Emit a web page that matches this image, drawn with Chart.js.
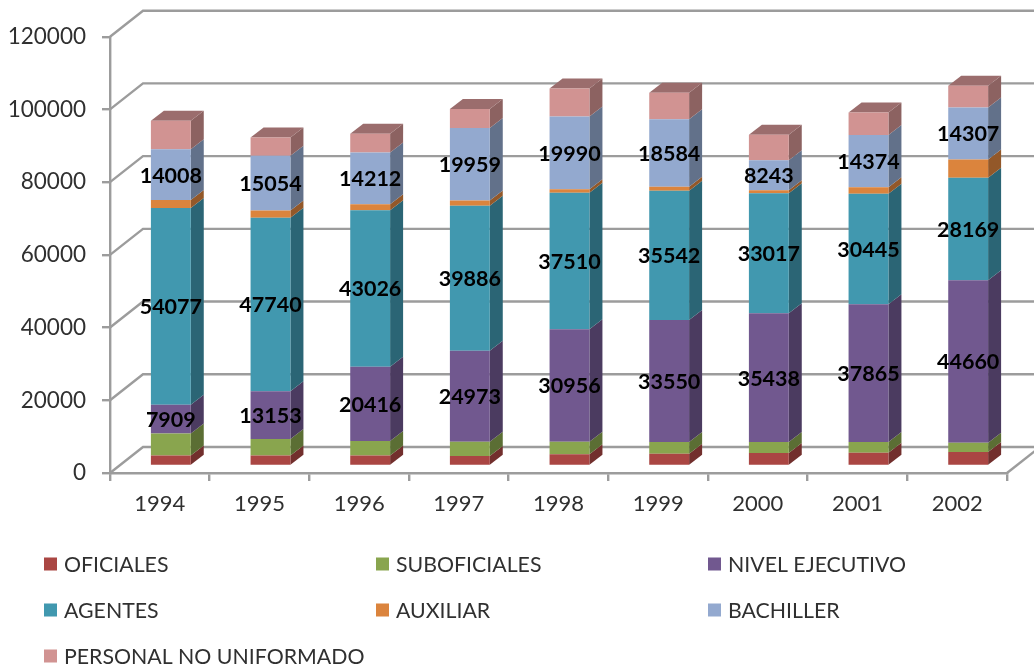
<!DOCTYPE html>
<html><head><meta charset="utf-8">
<style>html,body{margin:0;padding:0;background:#fff}#w{width:1034px;height:667px}canvas{filter:blur(0.55px)}</style>
<script src="https://cdn.jsdelivr.net/npm/chart.js@4"></script></head>
<body><div id="w"><canvas id="c" width="1034" height="667"></canvas></div>
<script>
const years = ['1994','1995','1996','1997','1998','1999','2000','2001','2002'];
const oficiales = [2900,2900,2900,2750,3200,3400,3580,3660,3850];
const suboficiales = [6050,4500,4000,3950,3480,3200,3000,2930,2570];
const nivelEjecutivo = [7909,13153,20416,24973,30956,33550,35438,37865,44660];
const agentes = [54077,47740,43026,39886,37510,35542,33017,30445,28169];
const auxiliar = [2200,2000,1650,1470,1000,1100,825,1740,5040];
const bachiller = [14008,15054,14212,19959,19990,18584,8243,14374,14307];
const personal = [7800,5000,5200,5220,7700,7300,6970,6230,5960];
const seriesNames = ['OFICIALES','SUBOFICIALES','NIVEL EJECUTIVO','AGENTES','AUXILIAR','BACHILLER','PERSONAL NO UNIFORMADO'];
const seriesValues = [oficiales,suboficiales,nivelEjecutivo,agentes,auxiliar,bachiller,personal];
const frontColors = ['#AA4643','#89A54E','#71588F','#4198AF','#DB843D','#93A9CF','#D19392'];
const sideColors = ['#722F2D','#5B6E34','#4B3B60','#2B6575','#935829','#62718A','#8C6261'];
const labelledSeries = [2,3,5];
const topColor = '#9B6D6D';
const gridColor = '#9C9C9C', textColor = '#303030';
const FONT = 'Lato, Carlito, sans-serif';

const wall = {dx:33, dy:-26};
const bar = {dx:13, dy:-10, shiftX:11, shiftY:-7};
const legendLayout = {cols:[44,376,708], rows:[564,610,656], box:13, gap:7};

function poly(ctx, pts, fill){ctx.beginPath();pts.forEach((p,i)=>i?ctx.lineTo(p[0],p[1]):ctx.moveTo(p[0],p[1]));ctx.closePath();ctx.fillStyle=fill;ctx.fill();}

const threeD = {
  id:'threeD',
  beforeDatasetsDraw(chart){
    const ctx=chart.ctx,y=chart.scales.y,a=chart.chartArea;
    ctx.save();
    ctx.strokeStyle=gridColor;ctx.lineWidth=2.4;
    y.ticks.forEach(t=>{
      const py=y.getPixelForValue(t.value);
      ctx.beginPath();ctx.moveTo(a.left,py);ctx.lineTo(a.left+wall.dx,py+wall.dy);ctx.lineTo(a.right+wall.dx,py+wall.dy);ctx.stroke();
    });
    const p0=y.getPixelForValue(0);
    ctx.beginPath();ctx.moveTo(a.right,p0);ctx.lineTo(a.right+wall.dx,p0+wall.dy);ctx.stroke();
    ctx.restore();
    ctx.save();
    ctx.translate(bar.shiftX,bar.shiftY);
    const metas=chart.data.datasets.map((d,i)=>chart.getDatasetMeta(i));
    metas.forEach((m,si)=>m.data.forEach(el=>{
      const r=el.x+el.width/2,l=el.x-el.width/2;
      poly(ctx,[[r,el.base],[r,el.y],[r+bar.dx,el.y+bar.dy],[r+bar.dx,el.base+bar.dy]],sideColors[si]);
      if(si===metas.length-1) poly(ctx,[[l,el.y],[r,el.y],[r+bar.dx,el.y+bar.dy],[l+bar.dx,el.y+bar.dy]],topColor);
    }));
  },
  afterDatasetsDraw(chart){
    const ctx=chart.ctx;
    ctx.font='bold 21.5px '+FONT;ctx.fillStyle='#000';ctx.textAlign='center';ctx.textBaseline='middle';
    labelledSeries.forEach(si=>{
      chart.getDatasetMeta(si).data.forEach((el,i)=>{
        ctx.fillText(String(chart.data.datasets[si].data[i]),el.x,(el.y+el.base)/2+1);
      });
    });
    ctx.restore();
  },
  afterDraw(chart){
    const ctx=chart.ctx,L=legendLayout;
    ctx.save();
    ctx.font='21.3px '+FONT;ctx.textAlign='left';ctx.textBaseline='middle';
    chart.data.datasets.forEach((d,i)=>{
      const x=L.cols[i%3],y=L.rows[Math.floor(i/3)];
      ctx.fillStyle=d.backgroundColor;ctx.fillRect(x,y-L.box/2,L.box,L.box);
      ctx.fillStyle=textColor;ctx.fillText(d.label,x+L.box+L.gap,y+1);
    });
    ctx.restore();
  }
};

new Chart(document.getElementById('c'),{
  type:'bar',
  data:{labels:years,datasets:seriesNames.map((n,i)=>({label:n,data:seriesValues[i],backgroundColor:frontColors[i],borderWidth:0,barPercentage:0.4,categoryPercentage:1}))},
  plugins:[threeD],
  options:{
    responsive:false,animation:false,
    layout:{padding:{left:0,right:27,top:36.7,bottom:0}},
    plugins:{legend:{display:false},title:{display:false},tooltip:{enabled:false}},
    scales:{
      x:{stacked:true,afterFit(s){s.height=194;},
        border:{color:gridColor,width:2.4},
        grid:{display:true,drawOnChartArea:false,color:gridColor,lineWidth:2.4,tickLength:8,offset:true},
        ticks:{color:textColor,font:{family:FONT,size:22},padding:10,maxRotation:0}},
      y:{stacked:true,min:0,max:120000,afterFit(s){s.width=110;},
        border:{color:gridColor,width:2.4},
        grid:{display:true,drawOnChartArea:false,color:gridColor,lineWidth:2.4,tickLength:8},
        ticks:{stepSize:20000,color:textColor,font:{family:FONT,size:22.5},padding:16,callback:v=>String(v)}}
    }
  }
});
</script></body></html>
